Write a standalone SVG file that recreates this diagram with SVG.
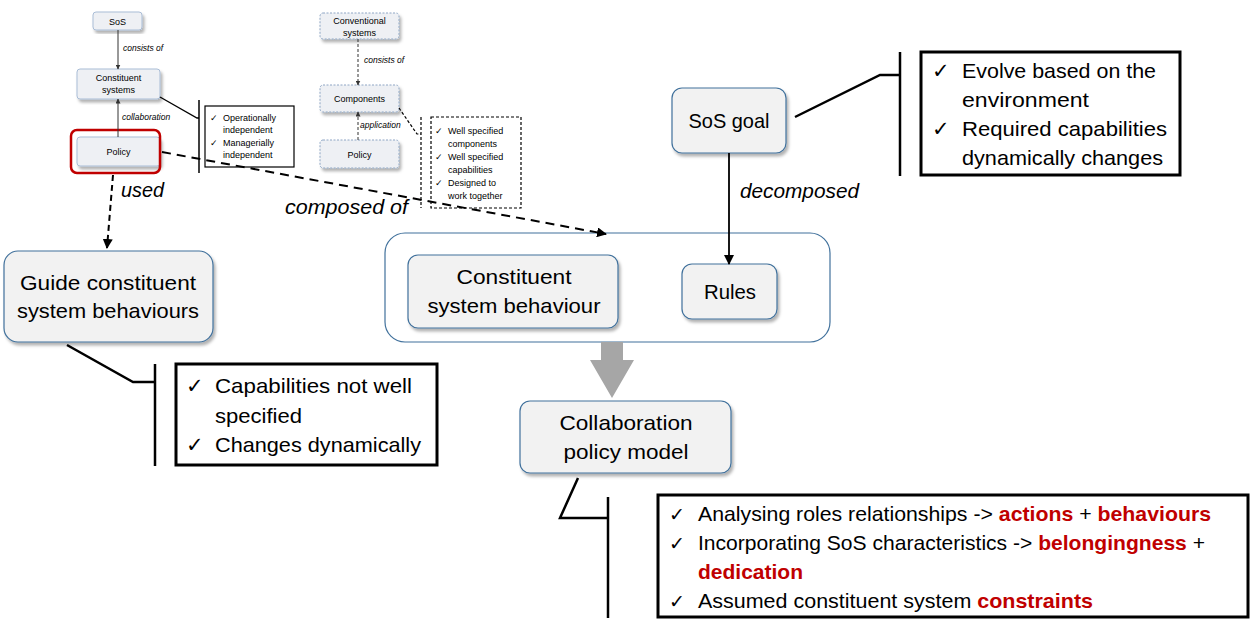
<svg xmlns="http://www.w3.org/2000/svg" width="1250" height="631" viewBox="0 0 1250 631">
<style>
text{font-family:"Liberation Sans",Arial,sans-serif;fill:#000}
.node{fill:#f2f2f2;stroke:#41719c;stroke-width:1.2}
.snode{fill:#eef0f4;stroke:#a9bdd6;stroke-width:1}
.dnode{fill:#eef0f4;stroke:#8ea6c4;stroke-width:1;stroke-dasharray:2,1.5}
.big{font-size:21px}
.lbl{font-size:20px;font-style:italic}
.small{font-size:9px}
.slbl{font-size:8.5px;font-style:italic}
.chk{font-family:"DejaVu Sans",sans-serif}
.bchk{font-family:"DejaVu Sans",sans-serif;font-size:21px}
.red{fill:#c00000;font-weight:bold}
.box{fill:#fff;stroke:#000;stroke-width:3}
.ln{stroke:#000;fill:none;stroke-width:2.5}
</style>
<defs>
<filter id="sh" x="-10%" y="-10%" width="125%" height="130%">
<feDropShadow dx="2" dy="3" stdDeviation="1.5" flood-color="#000" flood-opacity="0.3"/>
</filter>
<marker id="ahs" viewBox="0 0 10 10" refX="9" refY="5" markerWidth="5" markerHeight="5" orient="auto" markerUnits="userSpaceOnUse"><path d="M0,0L10,5L0,10z" fill="#333"/></marker>
<marker id="ahb" viewBox="0 0 10 10" refX="9" refY="5" markerWidth="10" markerHeight="10" orient="auto" markerUnits="userSpaceOnUse"><path d="M0,0L10,5L0,10z" fill="#000"/></marker>
</defs>

<g id="n-container">
<rect x="385" y="233" width="445" height="109" rx="20" fill="#fff" stroke="#41719c" stroke-width="1.2"/>
</g>

<g id="n-sos">
<rect class="snode" x="93" y="12" width="49" height="18" rx="3" filter="url(#sh)"/>
<text class="small" x="117.5" y="24.5" text-anchor="middle">SoS</text>
</g>
<text class="slbl" x="123" y="51">consists of</text>
<g id="n-constituent-systems">
<rect class="snode" x="77" y="69" width="83" height="30" rx="3" filter="url(#sh)"/>
<text class="small" x="118.5" y="81" text-anchor="middle">Constituent</text>
<text class="small" x="118.5" y="93" text-anchor="middle">systems</text>
</g>
<text class="slbl" x="122" y="120">collaboration</text>
<g id="n-policy">
<rect class="snode" x="77" y="137" width="83" height="29" rx="3" filter="url(#sh)"/>
<text class="small" x="118.5" y="155" text-anchor="middle">Policy</text>
<rect x="71" y="130" width="89" height="43" rx="6" fill="none" stroke="#c00000" stroke-width="2.5"/>
</g>
<g id="n-cs-props">
<rect x="205" y="106" width="89" height="61" fill="#fff" stroke="#000" stroke-width="1.2"/>
<text class="small chk" x="210" y="121">✓</text>
<text class="small" x="223" y="121">Operationally</text>
<text class="small" x="223" y="133">independent</text>
<text class="small chk" x="210" y="146">✓</text>
<text class="small" x="223" y="146">Managerially</text>
<text class="small" x="223" y="158">independent</text>
</g>

<g id="n-conventional">
<rect class="dnode" x="320" y="13" width="79" height="26" rx="3" filter="url(#sh)"/>
<text class="small" x="359.5" y="24" text-anchor="middle">Conventional</text>
<text class="small" x="359.5" y="36" text-anchor="middle">systems</text>
</g>
<text class="slbl" x="364" y="63">consists of</text>
<g id="n-components">
<rect class="dnode" x="320" y="85" width="79" height="27" rx="3" filter="url(#sh)"/>
<text class="small" x="359.5" y="102" text-anchor="middle">Components</text>
</g>
<text class="slbl" x="360" y="128">application</text>
<g id="n-policy2">
<rect class="dnode" x="320" y="140" width="79" height="28" rx="3" filter="url(#sh)"/>
<text class="small" x="359.5" y="157.5" text-anchor="middle">Policy</text>
</g>
<g id="n-comp-props">
<rect x="431" y="117" width="90" height="91" fill="#fff" stroke="#000" stroke-width="1.2" stroke-dasharray="3,2"/>
<text class="small chk" x="435" y="134">✓</text>
<text class="small" x="448" y="134">Well specified</text>
<text class="small" x="448" y="147">components</text>
<text class="small chk" x="435" y="160">✓</text>
<text class="small" x="448" y="160">Well specified</text>
<text class="small" x="448" y="173">capabilities</text>
<text class="small chk" x="435" y="186">✓</text>
<text class="small" x="448" y="186">Designed to</text>
<text class="small" x="448" y="199">work together</text>
</g>

<text class="lbl" x="121" y="197" textLength="43" lengthAdjust="spacingAndGlyphs">used</text>
<text class="lbl" x="285" y="214" textLength="123" lengthAdjust="spacingAndGlyphs">composed of</text>
<text class="lbl" x="740" y="198" textLength="119" lengthAdjust="spacingAndGlyphs">decomposed</text>

<g id="n-guide">
<rect class="node" x="4" y="251" width="209" height="91" rx="14" filter="url(#sh)"/>
<text class="big" x="108" y="290" text-anchor="middle" textLength="176" lengthAdjust="spacingAndGlyphs">Guide constituent</text>
<text class="big" x="108" y="318" text-anchor="middle" textLength="182" lengthAdjust="spacingAndGlyphs">system behaviours</text>
</g>
<g id="n-guide-props">
<rect class="box" x="176" y="364" width="261" height="101"/>
<text class="bchk" x="186" y="393">✓</text>
<text class="big" x="215" y="393" textLength="197" lengthAdjust="spacingAndGlyphs">Capabilities not well</text>
<text class="big" x="215" y="423" textLength="87" lengthAdjust="spacingAndGlyphs">specified</text>
<text class="bchk" x="186" y="452">✓</text>
<text class="big" x="215" y="452" textLength="206" lengthAdjust="spacingAndGlyphs">Changes dynamically</text>
</g>

<g id="n-sosgoal">
<rect class="node" x="672" y="88" width="114" height="65" rx="10" filter="url(#sh)"/>
<text class="big" x="729" y="128" text-anchor="middle" textLength="81" lengthAdjust="spacingAndGlyphs">SoS goal</text>
</g>
<g id="n-goal-props">
<rect class="box" x="921" y="52" width="259" height="123"/>
<text class="bchk" x="932" y="78">✓</text>
<text class="big" x="962" y="78" textLength="194" lengthAdjust="spacingAndGlyphs">Evolve based on the</text>
<text class="big" x="962" y="107" textLength="127" lengthAdjust="spacingAndGlyphs">environment</text>
<text class="bchk" x="932" y="136">✓</text>
<text class="big" x="962" y="136" textLength="205" lengthAdjust="spacingAndGlyphs">Required capabilities</text>
<text class="big" x="962" y="165" textLength="201" lengthAdjust="spacingAndGlyphs">dynamically changes</text>
</g>

<g id="n-csb">
<rect class="node" x="408" y="255" width="210" height="73" rx="10" filter="url(#sh)"/>
<text class="big" x="514" y="284" text-anchor="middle" textLength="115" lengthAdjust="spacingAndGlyphs">Constituent</text>
<text class="big" x="514" y="313" text-anchor="middle" textLength="173" lengthAdjust="spacingAndGlyphs">system behaviour</text>
</g>
<g id="n-rules">
<rect class="node" x="682" y="264" width="95" height="55" rx="10" filter="url(#sh)"/>
<text class="big" x="730" y="299" text-anchor="middle" textLength="52" lengthAdjust="spacingAndGlyphs">Rules</text>
</g>

<g id="n-cpm">
<rect class="node" x="520" y="401" width="211" height="72" rx="10" filter="url(#sh)"/>
<text class="big" x="626" y="430" text-anchor="middle" textLength="133" lengthAdjust="spacingAndGlyphs">Collaboration</text>
<text class="big" x="626" y="459" text-anchor="middle" textLength="125" lengthAdjust="spacingAndGlyphs">policy model</text>
</g>
<g id="n-cpm-props">
<rect class="box" x="658" y="495" width="590" height="122"/>
<text class="chk" x="669" y="521" font-size="19">✓</text>
<text class="big" x="698" y="521" textLength="513" lengthAdjust="spacingAndGlyphs">Analysing roles relationships -&gt; <tspan class="red">actions</tspan> + <tspan class="red">behaviours</tspan></text>
<text class="chk" x="669" y="550" font-size="19">✓</text>
<text class="big" x="698" y="550" textLength="507" lengthAdjust="spacingAndGlyphs">Incorporating SoS characteristics -&gt; <tspan class="red">belongingness</tspan> +</text>
<text class="big red" x="698" y="579" textLength="105" lengthAdjust="spacingAndGlyphs">dedication</text>
<text class="chk" x="669" y="608" font-size="19">✓</text>
<text class="big" x="698" y="608" textLength="395" lengthAdjust="spacingAndGlyphs">Assumed constituent system <tspan class="red">constraints</tspan></text>
</g>

<g id="connectors">
<line x1="118" y1="30" x2="118" y2="69" stroke="#333" stroke-width="1" marker-end="url(#ahs)"/>
<line x1="118" y1="137" x2="118" y2="99" stroke="#333" stroke-width="1" marker-end="url(#ahs)"/>
<polyline points="160,97 197,118 199,118" fill="none" stroke="#000" stroke-width="1.3"/>
<line x1="199" y1="100" x2="199" y2="173" stroke="#000" stroke-width="1.5"/>
<line x1="358" y1="39" x2="358" y2="85" stroke="#333" stroke-width="1" stroke-dasharray="3,2" marker-end="url(#ahs)"/>
<line x1="358" y1="140" x2="358" y2="112" stroke="#333" stroke-width="1" stroke-dasharray="3,2" marker-end="url(#ahs)"/>
<polyline points="399,108 417,134 421,134" fill="none" stroke="#000" stroke-width="1.2" stroke-dasharray="3,2"/>
<line x1="421" y1="117" x2="421" y2="208" stroke="#000" stroke-width="1.2" stroke-dasharray="3,2"/>
<line x1="113" y1="175" x2="107" y2="248" stroke="#000" stroke-width="2" stroke-dasharray="6,4" marker-end="url(#ahb)"/>
<line x1="162" y1="152" x2="606" y2="234" stroke="#000" stroke-width="2" stroke-dasharray="9,6" marker-end="url(#ahb)"/>
<line x1="729" y1="153" x2="729" y2="264" stroke="#000" stroke-width="1.8" marker-end="url(#ahb)"/>
<polyline class="ln" points="67,345 133,382 155,382"/>
<line class="ln" x1="155" y1="364" x2="155" y2="466"/>
<polyline class="ln" points="795,117 880,75 900,75"/>
<line class="ln" x1="900" y1="52" x2="900" y2="176"/>
<polyline class="ln" points="578,478 560,518 608,518"/>
<line class="ln" x1="608" y1="497" x2="608" y2="618"/>
<path d="M601,342H623V360H634L612,398L590,360H601Z" fill="#a6a6a6"/>
</g>
</svg>
